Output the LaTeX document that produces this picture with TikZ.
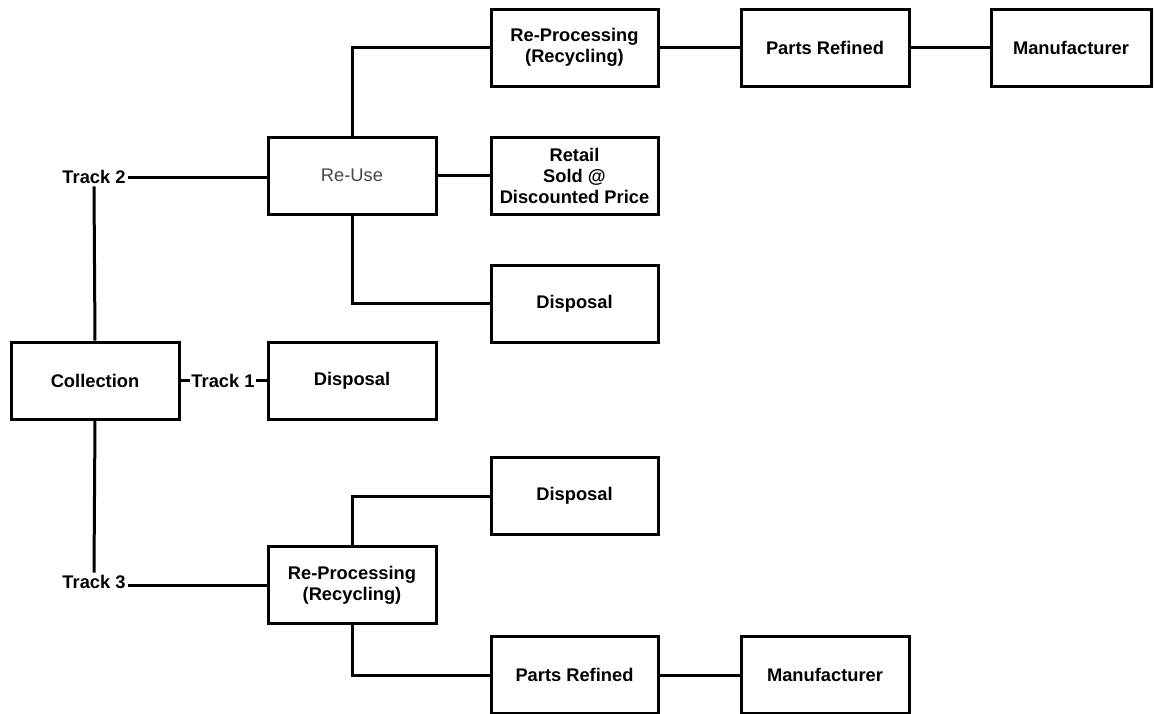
\documentclass[tikz,border=0pt]{standalone}
\usepackage{fontspec}
\setmainfont{Liberation Sans}
\begin{document}
\begin{tikzpicture}[x=1pt,y=-1pt,
  box/.style={draw=black,line width=3pt,rectangle,minimum width=168pt,minimum height=77pt,inner sep=0pt,align=center,font=\fontsize{18.3}{21}\selectfont\bfseries},
  lbl/.style={inner sep=2.5pt,font=\fontsize{18.3}{21}\selectfont\bfseries},
  conn/.style={line width=3pt}]
\useasboundingbox (0,0) rectangle (1154,713);
\node[box] (coll) at (95,380.5) {Collection};
\node[box] (disp1) at (352,380.5) {Disposal};
\node[box,font=\fontsize{18.3}{21}\selectfont,text=black!72] (reuse) at (352,175.5) {Re-Use};
\node[box,minimum width=167pt] (rp1) at (574.5,47.5) {Re-Processing\\(Recycling)};
\node[box] (pr1) at (825,47.5) {Parts Refined};
\node[box,minimum width=160pt] (man1) at (1071,47.5) {Manufacturer};
\node[box,minimum width=167pt] (retail) at (574.5,175.5) {Retail\\Sold @\\Discounted Price};
\node[box,minimum width=167pt] (disp2) at (574.5,303.5) {Disposal};
\node[box,minimum width=167pt] (disp3) at (574.5,496) {Disposal};
\node[box] (rp2) at (352,585) {Re-Processing\\(Recycling)};
\node[box,minimum width=167pt] (pr2) at (574.5,675) {Parts Refined};
\node[box] (man2) at (825,675) {Manufacturer};
\node[lbl] (tr2) at (94,177) {Track 2};
\node[lbl,inner sep=1.5pt] (tr1) at (223,380.5) {Track 1};
\node[lbl] (tr3) at (94,582) {Track 3};
\draw[conn] (coll.north) -- (tr2.south);
\draw[conn] (tr2.east) -- (reuse.west |- tr2.east);
\draw[conn] (coll.south) -- (tr3.north);
\draw[conn] (tr3.east) ++(0,3) -- (rp2.west);
\draw[conn] (coll.east) -- (tr1.west);
\draw[conn] (tr1.east) -- (disp1.west);
\draw[conn] (reuse.north) |- (rp1.west);
\draw[conn] (rp1.east) -- (pr1.west);
\draw[conn] (pr1.east) -- (man1.west);
\draw[conn] (reuse.east) -- (retail.west);
\draw[conn] (reuse.south) |- (disp2.west);
\draw[conn] (rp2.north) |- (disp3.west);
\draw[conn] (rp2.south) |- (pr2.west);
\draw[conn] (pr2.east) -- (man2.west);
\end{tikzpicture}
\end{document}
